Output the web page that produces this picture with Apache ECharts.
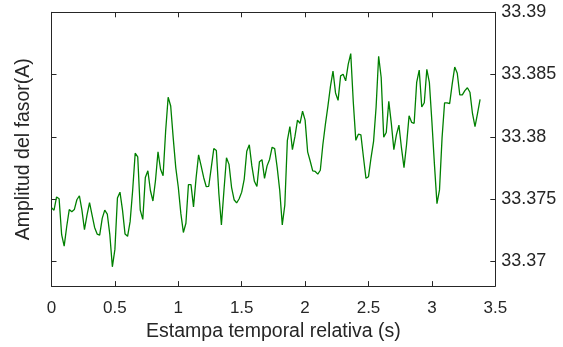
<!DOCTYPE html>
<html>
<head>
<meta charset="utf-8">
<script src="https://cdn.jsdelivr.net/npm/echarts@6/dist/echarts.min.js"></script>
<style>
html,body{margin:0;padding:0;background:#fff;}
#chart{width:563px;height:347px;}
</style>
</head>
<body>
<div id="chart"></div>
<script>
// Time stamps (s)
const times = [
0.00,0.02,0.04,0.06,0.08,0.10,0.12,0.14,0.16,0.18,
0.20,0.22,0.24,0.26,0.28,0.30,0.32,0.34,0.36,0.38,
0.40,0.42,0.44,0.46,0.48,0.50,0.52,0.54,0.56,0.58,
0.60,0.62,0.64,0.66,0.68,0.70,0.72,0.74,0.76,0.78,
0.80,0.82,0.84,0.86,0.88,0.90,0.92,0.94,0.96,0.98,
1.00,1.02,1.04,1.06,1.08,1.10,1.12,1.14,1.16,1.18,
1.20,1.22,1.24,1.26,1.28,1.30,1.32,1.34,1.36,1.38,
1.40,1.42,1.44,1.46,1.48,1.50,1.52,1.54,1.56,1.58,
1.60,1.62,1.64,1.66,1.68,1.70,1.72,1.74,1.76,1.78,
1.80,1.82,1.84,1.86,1.88,1.90,1.92,1.94,1.96,1.98,
2.00,2.02,2.04,2.06,2.08,2.10,2.12,2.14,2.16,2.18,
2.20,2.22,2.24,2.26,2.28,2.30,2.32,2.34,2.36,2.38,
2.40,2.42,2.44,2.46,2.48,2.50,2.52,2.54,2.56,2.58,
2.60,2.62,2.64,2.66,2.68,2.70,2.72,2.74,2.76,2.78,
2.80,2.82,2.84,2.86,2.88,2.90,2.92,2.94,2.96,2.98,
3.00,3.02,3.04,3.06,3.08,3.10,3.12,3.14,3.16,3.18,
3.20,3.22,3.24,3.26,3.28,3.30,3.32,3.34,3.36,3.38
];
// Phasor amplitude (A)
const amplitude = [
33.37429,33.37410,33.37516,33.37502,33.37213,33.37121,33.37279,33.37415,33.37397,33.37415,
33.37494,33.37526,33.37410,33.37253,33.37371,33.37470,33.37371,33.37271,33.37218,33.37210,
33.37344,33.37410,33.37379,33.37213,33.36955,33.37095,33.37508,33.37555,33.37410,33.37218,
33.37200,33.37318,33.37568,33.37868,33.37839,33.37410,33.37336,33.37673,33.37726,33.37568,
33.37484,33.37647,33.37879,33.37739,33.37687,33.38042,33.38318,33.38247,33.37989,33.37752,
33.37594,33.37384,33.37231,33.37305,33.37616,33.37616,33.37437,33.37666,33.37855,33.37766,
33.37673,33.37600,33.37602,33.37752,33.37905,33.37889,33.37542,33.37292,33.37568,33.37831,
33.37778,33.37594,33.37494,33.37468,33.37502,33.37555,33.37660,33.37884,33.37936,33.37766,
33.37642,33.37600,33.37800,33.37816,33.37666,33.37766,33.37818,33.37916,33.37905,33.37752,
33.37568,33.37292,33.37450,33.37968,33.38082,33.37897,33.38003,33.38134,33.38108,33.38205,
33.38134,33.37879,33.37805,33.37726,33.37721,33.37700,33.37731,33.37936,33.38100,33.38246,
33.38405,33.38528,33.38352,33.38292,33.38489,33.38502,33.38449,33.38581,33.38668,33.38279,
33.37971,33.38021,33.38015,33.37837,33.37666,33.37679,33.37831,33.37963,33.38239,33.38647,
33.38476,33.37997,33.38034,33.38284,33.38108,33.37897,33.38015,33.38094,33.37910,33.37752,
33.37936,33.38168,33.38116,33.38108,33.38437,33.38536,33.38239,33.38273,33.38542,33.38437,
33.38121,33.37778,33.37463,33.37573,33.37989,33.38273,33.38273,33.38266,33.38423,33.38560,
33.38510,33.38337,33.38337,33.38371,33.38394,33.38358,33.38187,33.38082,33.38187,33.38300
];
const xTicks = [0, 0.5, 1, 1.5, 2, 2.5, 3, 3.5];
const yTicks = [33.37, 33.375, 33.38, 33.385, 33.39];
const xTitle = 'Estampa temporal relativa (s)';
const yTitle = 'Amplitud del fasor(A)';

const seriesData = times.map((t, i) => [t, amplitude[i]]);
const axisColor = '#262626';
const fontFamily = '"Liberation Sans", Arial, sans-serif';

const chart = echarts.init(document.getElementById('chart'), null, {renderer: 'canvas'});
const commonLine = {show: true, onZero: false, lineStyle: {color: axisColor, width: 1}};
const commonTick = {show: true, inside: true, length: 5, lineStyle: {color: axisColor, width: 1}};

chart.setOption({
  animation: false,
  backgroundColor: '#ffffff',
  grid: {left: 51.5, right: 67.7, top: 12.3, bottom: 57, containLabel: false},
  xAxis: [
    {
      type: 'value', position: 'bottom', min: 0, max: 3.5,
      axisLine: commonLine,
      axisTick: Object.assign({}, commonTick, {customValues: xTicks}),
      axisLabel: {customValues: xTicks, color: axisColor, fontSize: 17, fontFamily: fontFamily, margin: 14,
        formatter: v => String(+(+v).toFixed(2))},
      splitLine: {show: false},
      name: xTitle, nameLocation: 'middle', nameGap: 34,
      nameTextStyle: {color: axisColor, fontSize: 19.5, fontFamily: fontFamily}
    },
    {
      type: 'value', position: 'top', min: 0, max: 3.5,
      axisLine: commonLine,
      axisTick: Object.assign({}, commonTick, {customValues: xTicks}),
      axisLabel: {show: false},
      splitLine: {show: false}
    }
  ],
  yAxis: [
    {
      type: 'value', position: 'right', min: 33.368, max: 33.39,
      axisLine: commonLine,
      axisTick: Object.assign({}, commonTick, {customValues: yTicks}),
      axisLabel: {customValues: yTicks, color: axisColor, fontSize: 18, fontFamily: fontFamily, margin: 6,
        formatter: v => String(+(+v).toFixed(3))},
      splitLine: {show: false}
    },
    {
      type: 'value', position: 'left', min: 33.368, max: 33.39,
      axisLine: commonLine,
      axisTick: Object.assign({}, commonTick, {customValues: yTicks}),
      axisLabel: {show: false},
      splitLine: {show: false},
      name: yTitle, nameLocation: 'middle', nameGap: 18,
      nameTextStyle: {color: axisColor, fontSize: 19.5, fontFamily: fontFamily}
    }
  ],
  series: [{
    type: 'line',
    xAxisIndex: 0,
    yAxisIndex: 0,
    data: seriesData,
    showSymbol: false,
    symbol: 'none',
    lineStyle: {color: '#008000', width: 1.3},
    itemStyle: {color: '#008000'}
  }]
});
</script>
</body>
</html>
